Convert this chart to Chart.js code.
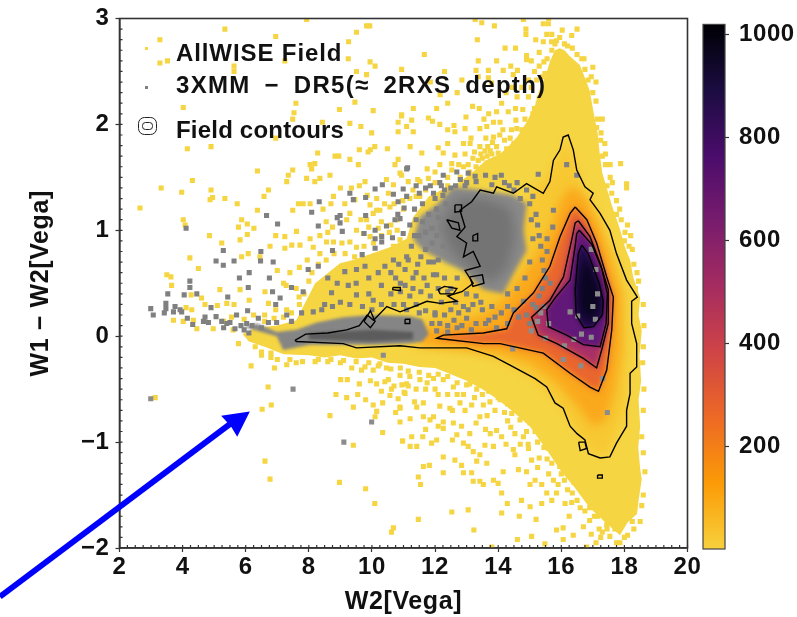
<!DOCTYPE html>
<html lang="en">
<head>
<meta charset="UTF-8">
<title>W1-W2 vs W2</title>
<script src="https://cdn.jsdelivr.net/npm/chart.js"></script>
<style>
    body { margin: 0; background: white; }
    #main { position: absolute; left: 0; top: 0; }
    #bar { position: absolute; left: 690px; top: 0; }
</style>
</head>
<body>
<canvas id="main" width="797" height="617"></canvas>
<canvas id="bar" width="107" height="617"></canvas>
<script>
// field density, outermost region to core (all [W2, W1-W2])
const fieldEnvelope = [[5.9,.02],[6.3,.08],[7,.1],[7.6,.15],[8.2,.5],[8.99,.69],[9.4,.72],[10,.78],[10.57,.84],[11.1,.92],[11.3,1.12],[11.8,1.32],[12.2,1.38],[12.7,1.44],[13.2,1.55],[13.6,1.66],[14.06,1.72],[14.35,1.8],[14.6,1.88],[14.9,2.02],[15.2,2.2],[15.3,2.32],[15.5,2.46],[15.65,2.6],[15.8,2.7],[15.95,2.72],[16.1,2.7],[16.28,2.64],[16.59,2.56],[16.8,2.4],[16.9,2.32],[17.02,2.12],[17.15,1.92],[17.22,1.72],[17.3,1.54],[17.5,1.34],[17.62,1.22],[17.85,1.02],[18.02,.84],[18.18,.72],[18.28,.56],[18.5,.36],[18.45,.2],[18.55,.05],[18.48,-.18],[18.53,-.42],[18.45,-.6],[18.5,-.85],[18.44,-1.05],[18.5,-1.25],[18.55,-1.35],[18.45,-1.55],[18.4,-1.68],[18.1,-1.76],[17.86,-1.88],[17.4,-1.76],[16.9,-1.62],[16.4,-1.42],[16,-1.28],[15.6,-1.1],[15,-.85],[14.5,-.72],[14,-.6],[13.5,-.5],[13,-.42],[12.5,-.36],[12,-.3],[11.5,-.29],[11,-.26],[10.5,-.25],[10,-.2],[9.5,-.21],[9,-.18],[8.5,-.2],[8,-.18],[7.2,-.17],[6.6,-.1],[6.1,-.05]];
const fieldWarm = [[11,-.1],[12,.25],[13,.6],[14,1.1],[15,1.3],[15.7,1.6],[16.2,1.85],[16.7,1.4],[17.2,1.1],[17.7,.75],[18,.4],[18.1,-.2],[18,-.7],[17.5,-1.1],[17,-1.1],[16.5,-.9],[15.8,-.6],[15,-.38],[14,-.22],[13,-.11],[12,-.1]];
const fieldHalo = [[16.35,1.42],[16.8,1.3],[17.2,1.05],[17.6,.7],[17.9,.4],[17.9,-.1],[17.7,-.5],[17.4,-.8],[17,-.85],[16.5,-.65],[15.8,-.42],[15,-.25],[14,-.16],[12.5,-.12],[11.5,-.09],[11.5,.07],[12.5,.12],[13.5,.2],[14.2,.35],[14.7,.55],[15.3,.8],[15.7,1.05],[16,1.3]];
const level2 = [[16.44,1.22],[16.81,1.1],[17.12,.88],[17.44,.56],[17.65,.37],[17.6,.06],[17.44,-.32],[17.18,-.52],[16.91,-.48],[16.28,-.35],[15.43,-.16],[14.06,-.07],[13.53,-.07],[12.05,-.02],[12.26,.01],[13.53,.03],[14.27,.07],[14.48,.22],[15.12,.41],[15.64,.66],[15.96,.94],[16.28,1.16]];
const level3 = [[16.54,1.09],[16.91,.94],[17.23,.69],[17.49,.44],[17.49,.12],[17.28,-.13],[17.12,-.3],[16.7,-.21],[15.86,-.07],[15.27,.01],[15.06,.18],[15.64,.34],[16.07,.56],[16.33,.91],[16.44,1.07]];
const level4 = [[16.57,1],[16.96,.87],[17.28,.64],[17.46,.4],[17.42,.12],[17.23,-.1],[16.7,-.08],[16.17,.01],[15.59,.09],[15.54,.25],[15.8,.36],[16.28,.53],[16.44,.85],[16.49,.97]];
const level5 = [[16.65,.86],[16.85,.78],[17.2,.5],[17.33,.33],[17.3,.2],[17.02,.09],[16.72,.08],[16.47,.2],[16.44,.44],[16.54,.78]];
const coreArea = [[16.72,.76],[16.95,.65],[17.22,.42],[17.22,.25],[16.98,.15],[16.72,.17],[16.55,.3],[16.55,.5]];

// outer contour
const contourOuter = [[7.56,-.04],[7.9,.02],[8.6,.03],[9.2,.06],[9.6,.1],[9.85,.2],[10.05,.15],[10.47,.28],[10.89,.23],[11.42,.29],[11.74,.33],[12.16,.31],[12.69,.33],[12.4,.38],[12.85,.42],[13.21,.5],[12.95,.62],[13.43,.66],[13.21,.8],[12.9,.75],[13,.88],[12.69,.94],[12.95,1.03],[12.79,1.19],[13.16,1.27],[13.43,1.38],[13.85,1.35],[13.95,1.41],[14.48,1.35],[14.9,1.44],[15.43,1.35],[15.64,1.46],[15.75,1.66],[15.96,1.76],[16.06,1.88],[16.22,1.9],[16.38,1.76],[16.49,1.57],[16.75,1.41],[17.01,1.35],[16.91,1.29],[17.23,1.16],[17.54,1],[17.75,.78],[18.07,.53],[18.41,.37],[18.23,.33],[18.23,.12],[18.39,-.07],[18.39,-.29],[18.18,-.35],[18.18,-.54],[18.07,-.7],[18.07,-.85],[17.91,-.93],[17.75,-1.01],[17.54,-1.14],[17.23,-1.15],[16.86,-1.11],[16.75,-.98],[16.5,-.92],[16.28,-.85],[16.06,-.68],[15.8,-.63],[15.54,-.48],[15.17,-.4],[14.48,-.29],[13.85,-.19],[13,-.11],[11.52,-.11],[10.89,-.09],[9.51,-.11],[9.09,-.07],[7.61,-.05]];
const contourLoops = [
    [[12.37,1.1],[12.74,1.07],[12.79,1],[12.53,1.02]],
    [[12.63,1.24],[12.84,1.24],[12.84,1.18],[12.63,1.17]],
    [[12.16,.4],[12.58,.4],[12.69,.45],[12.3,.47],[12.1,.44]],
    [[10.66,.46],[10.9,.46],[10.9,.43],[10.66,.44]],
    [[9.75,.14],[9.95,.24],[10.1,.14],[9.95,.08]],
    [[11.05,.16],[11.2,.16],[11.2,.12],[11.05,.12]],
    [[13.1,.56],[13.5,.58],[13.55,.5],[13.2,.47]],
    [[13.2,.95],[13.35,.97],[13.35,.9],[13.2,.9]],
    [[16.55,-1],[16.75,-1],[16.8,-1.06],[16.6,-1.08]],
    [[17.15,-1.31],[17.3,-1.31],[17.3,-1.34],[17.15,-1.34]]
];

// 3XMM grey density
const xmmCloud = [[12.05,1.24],[12.58,1.41],[13.43,1.38],[14.48,1.33],[14.9,1.25],[14.8,1],[14.9,.81],[14.48,.59],[14.16,.4],[13.53,.44],[12.9,.62],[12.37,.69],[11.63,.81],[11.31,.91],[11.53,1.13]];
const xmmCloudMid = [[12.2,1.05],[12.7,1.3],[13.5,1.3],[14.4,1.2],[14.55,.95],[14.3,.65],[13.8,.5],[13.2,.62],[12.5,.8]];
const xmmCloudCore = [[12.6,1.1],[13.3,1.2],[14.06,1.15],[14.1,.9],[13.7,.62],[13.3,.75],[12.7,.95]];
const xmmTail = [[5.92,.09],[6.98,0],[7.19,-.13],[8.04,-.08],[9.09,-.08],[10.15,-.08],[11.2,-.07],[11.6,-.05],[11.8,.02],[11.6,.16],[11.2,.19],[9.94,.2],[9.09,.18],[8.25,.13],[7.61,.06],[6.98,.04],[6.35,.12]];
const xmmTailCore = [[8,-.03],[10,-.05],[11.3,-.03],[11.3,.04],[10,.06],[8,.03]];

// scattered field sources
const fieldTop = [[5.34,2.9],[3.28,2.8],[3.28,2.58],[3.52,2.6],[6.95,2.83],[7.93,2.99],[9.83,2.93],[9.93,2.93],[9.51,2.87],[9.26,2.78],[7.24,2.6],[5.63,2.55],[5.63,2.5],[9.25,2.62],[9.94,2.59],[10.1,2.55],[10.94,2.52],[9.51,2.5],[9.83,2.47],[4.02,2.16],[7.59,2.2],[7.53,2.11],[7.49,2.05],[8.97,2.14],[9.46,2.21],[10.04,2.13],[9.3,2.01],[9.65,1.98],[9.99,1.92],[10.94,2.08],[10.83,2.02],[10.83,1.93],[8.43,2.02],[4.15,1.77],[4.9,1.79],[6.95,1.87],[8.28,1.73],[8.83,1.7],[8.95,1.7],[9.3,1.67],[9.6,1.76],[9.88,1.74],[9.95,1.76],[10.09,1.79],[10.49,1.77],[10.83,1.67],[6.37,1.56],[8.04,1.62],[8.19,1.63],[8.09,1.58],[9.57,1.62],[10.73,1.62],[7.49,1.57],[7.35,1.52],[7.3,1.46],[7.93,1.49],[8.35,1.49],[8.19,1.46],[8.67,1.52],[4.31,1.47],[3.32,1.4],[3.97,1.36],[4.9,1.38],[4.87,1.29],[4.95,1.31],[5.34,1.3],[5.73,1.25],[6.72,1.38],[6.58,1.32],[2.65,1.21],[6.37,1.19],[7.49,1.19],[7.67,1.25],[7.82,1.25],[8.04,1.25],[4.02,1.1],[4.08,1.05],[5.87,1.1],[6.05,1.06],[5.77,1.03],[6.26,1.02],[4.85,.95],[5.82,.91],[6.05,.96],[5.24,.88],[8.04,.92],[8.14,.84],[8.56,.89],[8.78,.89],[7.61,.99],[7.72,.86],[7.46,.86],[7.24,.83],[6.77,.85],[6.95,.95],[7.24,.94],[6.45,.75],[6.08,.78],[5.87,.75],[4.23,.74],[4.5,.64],[3.5,.58],[3.63,.56],[9.2,1.1],[9.3,1.16],[9.51,1],[9.83,1.1],[10.04,1.16],[10.15,1.19],[9.94,1.24],[9.78,1.46],[10.46,1.48],[10.68,1.43],[10.89,1.54],[10.52,1.35],[10.25,1.19],[10.57,1.22],[9.46,1.29],[9.14,1.25],[8.78,1.32],[9.94,.94],[9.73,.97],[9.3,.89],[9.51,.84],[10.68,.85],[10.89,.91],[8.35,.78],[7.95,.72],[8.1,.6],[7.7,.65],[7.4,.6],[7.6,.45],[7,.62],[7.2,.5]];
const fieldUpper = [[13.27,2.99],[13.48,2.96],[13.88,2.93],[14.8,2.99],[15.43,2.95],[15.59,2.95],[14.88,2.9],[14.88,2.85],[15.54,2.85],[16.03,2.89],[16.33,2.84],[15.19,2.8],[15.43,2.78],[15.69,2.78],[15.85,2.79],[13.34,2.8],[14.22,2.72],[14.55,2.72],[15.3,2.68],[14.9,2.65],[14.9,2.61],[15.45,2.59],[11.66,2.66],[13.37,2.6],[13.3,2.51],[13.69,2.51],[14.16,2.51],[14.61,2.51],[17,2.54],[13.37,2.45],[13.69,2.44],[13.79,2.39],[14.48,2.47],[14.96,2.42],[15.22,2.42],[12.16,2.28],[12.4,2.2],[12.05,2.15],[11.31,2.15],[13.19,2.17],[13.4,2.15],[14.11,2.2],[14.32,2.12],[14.6,2.26],[14.96,2.26],[15.27,2.2],[10.94,2.09],[11.26,2.04],[11.79,2.06],[11.92,2.03],[12.98,2.07],[12.6,1.99],[12.63,1.93],[12.95,1.96],[13.42,1.96],[13.64,1.98],[13.85,2.02],[14.06,2.02],[14.56,2.04],[14.59,1.96],[15.11,1.99],[17.12,1.97],[17.26,1.92],[11.1,1.98],[11.31,1.93],[13.14,1.87],[13.11,1.82],[12.9,1.82],[13.61,1.87],[13.85,1.88],[14.38,1.87],[14.64,1.85],[14.96,1.92],[11.21,1.79],[11.58,1.73],[12.26,1.73],[12.63,1.71],[13.42,1.79],[13.67,1.79],[13.95,1.79],[14.27,1.77],[14.53,1.79],[14.8,1.77],[15.01,1.73],[17.88,1.63],[18.07,1.44],[18.07,1.4],[12.53,1.63],[12.53,1.57],[10.94,1.52],[11.15,1.46],[11.52,1.46],[11.52,1.32],[11.79,1.49],[13.37,1.66],[13.53,1.57],[13.72,1.63],[14,1.63],[14.32,1.66],[14.59,1.6],[15.01,1.6],[15.35,2.1],[15.25,1.95],[15.42,2.35],[15.48,2.48],[17.4,1.72],[17.55,1.5],[17.75,1.28],[18.02,.98],[18.25,.82],[18.4,.6]];
const fieldLow = [[11.47,-1.73],[12.53,-1.66],[13.05,-1.64],[13.23,-1.83],[14.11,-1.67],[14.61,-1.92],[15.06,-1.89],[14.67,-1.7],[15.2,-1.73],[14.29,-1.58],[14.11,-1.48],[14.74,-1.55],[15.01,-1.61],[15.38,-1.58],[11.54,-1.4],[11.47,-1.33],[11.63,-1.23],[11.82,-1.22],[12.26,-1.29],[12.63,-1.17],[12.84,-1.22],[12.9,-1.29],[13.16,-1.29],[13.21,-1.37],[13.42,-1.37],[13.53,-1.4],[13.85,-1.36],[14,-1.39],[14.16,-1.28],[13.64,-1.2],[13.32,-1.18],[11.21,-1.04],[11.42,-1.04],[10.97,-.99],[11.26,-.95],[11.61,-.95],[11.89,-1.01],[12.05,-.98],[12.26,-1.14],[12.69,-.93],[12.9,-1.01],[13.05,-1.04],[13.21,-1.09],[13.42,-1.12],[13.58,-1.03],[13.85,-1.04],[14.48,-1.07],[14.53,-1.12],[14.96,-1.06],[15.06,-1.17],[14.64,-1.26],[14.9,-1.28],[15.17,-1.36],[15.01,-1.4],[15.38,-1.4],[15.54,-1.48],[15.85,-1.48],[16.12,-1.58],[16.33,-1.57],[15.85,-1.83],[16.06,-1.81],[16.38,-1.88],[16.7,-1.8],[17.44,-1.78],[17.54,-1.89],[17.86,-1.95],[16.8,-1.99],[16.06,-1.92],[15.48,-1.96],[13.8,-1.99],[10.89,-.67],[11.05,-.54],[11.42,-.67],[11.21,-.78],[11.63,-.63],[11.63,-.76],[11.95,-.76],[11.84,-.79],[12.26,-.81],[12.26,-.87],[12.58,-.82],[12.84,-.85],[12.47,-.68],[12.79,-.63],[13.16,-.65],[13.42,-.76],[13.95,-.89],[14.11,-.95],[13.53,-.65],[14.43,-.73],[14.53,-.92],[14.9,-.9],[15.17,-.9],[14.69,-.79],[15.11,-.79],[15.43,-.73],[11.52,-.41],[11.95,-.4],[12.26,-.41],[12.58,-.48],[13,-.46],[13.32,-.5],[13.74,-.62],[14.06,-.6],[14.59,-.7],[15.01,-.82],[15.45,-1.05],[15.7,-1.2],[16,-1.3],[16.2,-1.45],[16.5,-1.55],[16.75,-1.65],[17.05,-1.7],[17.2,-1.82],[16.95,-1.87],[18.25,-1.75],[18.1,-1.88],[17.7,-1.82],[6.17,-.28],[6.91,-.3],[6.71,-.48],[6.81,-.65],[6.52,-.69],[6.61,-1.18],[6.77,-1.35],[8.97,-1.38],[9.8,-1.44],[10.09,-1.58],[10.68,-1.81],[10.62,-1.85],[9.41,-1.03],[8.67,-.75],[9.41,-.67],[8.86,-.55],[9.2,-.58],[9.01,-.41],[9.22,-.41],[9.36,-.3],[9.67,-.32],[9.78,-.29],[10.04,-.32],[9.8,-.6],[10.04,-.65],[10.34,-.63],[10.15,-.71],[10.1,-.76],[10.34,-.91],[10.89,-.81],[10.97,-.99],[10.89,-.68],[10.57,-.56],[10.83,-.59],[11.02,-.53],[10.62,-.5],[10.41,-.43],[10.52,-.41],[10.89,-.37],[11.15,-.33],[10.25,-.26],[10.46,-.3],[3.13,-.58]];
const fieldTail = [[3.65,.48],[4.27,.39],[4.11,.27],[4.29,.25],[3.71,.15],[4.02,.14],[4.34,.15],[4.45,.07],[4.97,.07],[4.6,.36],[4.71,.3],[5.1,.29],[5.18,.44],[5.4,.31],[5.63,.3],[6.11,.34],[5.82,.44],[6.61,.42],[6.72,.31],[7.28,.48],[7.69,.37],[8.09,.36],[5.77,-.07],[5.3,.14],[5.55,.18],[5.6,.06],[5.95,.16],[6.25,.2],[6.6,.2],[6.95,.25],[7.3,.25],[6.5,-.18],[6.8,-.2],[7.6,-.25],[8.2,-.24],[8.6,-.24],[9,-.25],[7.3,-.27]];
const fieldEdge = [[15.3,2.25],[15.15,2.15],[15.4,2.45],[15.55,2.62],[15.7,2.7],[15.8,2.76],[16.1,2.76],[16.5,2.66],[16.75,2.52],[16.85,2.42],[17,2.3],[17.1,2.22],[17.15,2.05],[17.25,1.85],[17.3,1.7],[17.4,1.62],[17.45,1.42],[17.6,1.35],[17.75,1.15],[17.9,1.1],[18,.9],[18.15,.85],[18.3,.68],[18.35,.45],[18.6,.3],[18.62,.1],[18.6,-.1],[18.58,-.25],[18.62,-.5],[18.6,-.7],[18.55,-.95],[18.6,-1.1],[18.65,-1.28],[18.6,-1.5],[18.55,-1.6],[18.5,-1.75],[13.1,1.55],[13.3,1.6],[13.5,1.68],[13.65,1.7],[13.8,1.72],[14,1.73],[14.15,1.7],[14.3,1.72],[14.5,1.82],[14.7,1.82],[14.85,1.85],[15,1.85],[15.1,1.9],[14.2,1.85],[14.05,1.9],[13.75,1.75],[13.2,1.68],[12.9,1.6],[12.8,1.5],[12.4,1.42],[12,1.45],[11.7,1.38],[11.4,1.32],[11.2,1.3],[11,1.2],[10.8,1.1],[10.55,.98],[10.3,.95],[10.05,.88],[9.75,.85],[9.45,.75],[9.15,.78],[8.8,.78],[8.55,.72],[8.3,.68],[8,.52],[7.85,.4],[7.7,.3],[7.45,.22],[7.2,.18],[6.9,.17],[6.6,.14],[6.3,-.1],[6.5,-.15],[6.8,-.16],[7,-.22],[7.4,-.22],[7.8,-.24],[8.3,-.22],[8.7,-.22],[9.1,-.23],[9.5,-.24],[9.9,-.25],[10.2,-.28],[10.6,-.31],[10.9,-.3],[11.2,-.38],[11.5,-.34],[11.8,-.37],[12.1,-.36],[12.4,-.38],[12.7,-.44],[13.1,-.45],[13.4,-.45],[13.7,-.52],[14,-.58],[14.3,-.64],[14.6,-.66],[14.9,-.72],[15.2,-.84],[15.4,-.92],[15.6,-1.06],[15.8,-1.1],[15.95,-1.23],[16.2,-1.28],[16.4,-1.38],[16.6,-1.42],[16.9,-1.62],[17.15,-1.7],[17.45,-1.82],[17.75,-1.95],[18,-1.9],[18.3,-1.82],[12.9,-.55],[13.5,-.55],[12.1,-.55],[11.7,-.5],[12.7,-.55],[13.9,-.7],[14.3,-.8],[14.8,-.95],[15.3,-1.15],[15.6,-1.3],[11.4,-.5],[11.1,-.45]];
const fieldExtra = [[11.15,-.47],[11.35,-.62],[11.75,-.44],[12,-.5],[12.15,-.66],[12.4,-.55],[12.55,-.7],[12.95,-.7],[13.25,-.58],[13.3,-.82],[13.65,-.75],[13.75,-.92],[14.2,-.72],[14.4,-.86],[14.75,-.62],[14.95,-1.02],[15.25,-1],[15.3,-.72],[15.55,-1.16],[15.75,-1.36],[15.9,-1.4],[16.1,-1.36],[16.35,-1.48],[16.6,-1.62],[16.9,-1.74],[17.3,-1.85],[12.55,-.98],[12.1,-.85],[11.7,-.88],[13.1,-.92],[13.6,-.88],[14.25,-1.02],[14.7,-1.02],[15.25,-1.24],[15.7,-1.55],[16.25,-1.7],[17.1,-1.95],[17.25,-1.9],[10.7,-.47],[10.95,-.46],[10.75,-.72],[9.6,-.45],[9.95,-.42],[10.15,-.45],[9.55,-.55],[10.3,-.52],[11.3,1.38],[10.98,1.28],[10.7,1.25],[10.4,1.25],[10.15,1.3],[9.85,1.33],[9.6,1.42],[9.35,1.4],[9,1.4],[8.7,1.25],[8.45,1.2],[8.55,1.08],[8.75,1.03],[9.05,.88],[8.35,.95],[8.6,.98],[9.65,1.1],[10.3,1.08],[10.6,1.05],[10.8,1],[9.9,1.03],[10.2,1.02],[11.45,1.48],[11.75,1.58],[12,1.55],[12.15,1.62],[12.4,1.5],[12.75,1.62],[12.1,1.78],[12.4,1.82],[12.95,1.72],[13.05,1.62],[13.25,1.74],[13.45,1.72],[13.58,1.75],[13.82,1.83],[14.15,1.95],[14.42,1.95],[14.75,1.95],[14.85,2.05],[15.1,2.1],[14.78,2.14],[14.55,2.15],[13.95,2.12],[13.7,2.1],[13.55,2.05],[14.25,2.3],[14.45,2.35],[14.75,2.35],[15.05,2.35],[15.15,2.5],[15.3,2.55],[15.05,2.6],[15.7,2.85],[15.95,2.82],[16.2,2.74],[16.35,2.72],[16.65,2.62],[16.95,2.45],[17.1,2.4],[17.3,2.05],[17.38,1.82],[17.55,1.62],[17.62,1.45],[17.85,1.2],[18.1,1.05],[18.2,.95],[18.45,.52],[16.72,2.62],[14.4,2.55],[13.95,2.6],[12.85,2.42],[12.3,2.5],[11.85,2.4],[12.7,2.3],[12.15,2],[12.4,1.95],[15.6,3],[16.5,2.9]];

// 3XMM sources
const xmmLeft = [[2.99,.26],[3.07,.2],[3.47,.31],[3.47,.26],[3.42,.22],[3.76,.28],[3.71,.23],[3.92,.25],[3.97,.23],[4.15,.17],[4.32,.11],[4.71,.18],[4.66,.14],[4.82,.13],[4.9,.27],[5.06,.185],[5.24,.14],[5.4,.12],[5.66,.07],[5.71,.2],[6.06,.24],[6.03,.12],[6.4,.17],[6.72,.13],[6.98,.13],[7.3,.2],[7.45,.14],[7.77,.22],[8.14,.23],[8.41,.25],[3.53,.4],[4.05,.39],[4.45,.4],[4.23,.46],[4.23,.52],[5.43,.37],[6.08,.46],[6.85,.42],[7.09,.36],[6.95,.3],[7.45,.46],[7.82,.42],[8.72,.41],[9.51,.39],[10.04,.34],[10.3,.48],[11,.3],[5.95,.06],[6.2,.1],[6.1,.03],[5.85,.1],[6.5,.08],[5.5,.13],[5.3,.08]];
const xmmOutliers = [[2.99,-.59],[7.5,-.5],[9.99,-.81],[9.11,-1],[17.46,-.72],[17.31,-.4],[16.06,-.22],[16.62,-.28],[14.46,-.12],[10.36,-.18],[17.1,.63],[16.95,.82],[17.15,.4],[17,.28],[16.52,.19],[16.28,.23],[16.64,.02],[16.95,-.01],[17.08,.16],[16.4,-.03],[16.1,-.09],[15.6,.12],[15.5,-.02],[15.25,.14],[15.35,.22],[15.05,.05]];
const xmmMid = [[4.11,1.02],[6.66,1.14],[7.01,1.06],[8.09,1.17],[8.33,1.27],[8.3,1.04],[8.99,1.14],[8.9,1.12],[8.99,1.07],[9.06,.99],[9.3,1.35],[9.41,1.29],[9.8,1.31],[10.1,1.39],[10.33,1.43],[10.68,1.34],[10.99,1.39],[11.13,1.59],[11.1,1.32],[10.83,1.27],[11.02,1.21],[10.89,1.11],[10.73,1.1],[10.82,1.15],[9.8,1.14],[10.46,1.04],[10.1,1],[9.75,.97],[10.31,.94],[10.31,.89],[10.1,.92],[10.65,.93],[10.99,.97],[5.29,.81],[5.06,.71],[5.29,.67],[5.63,.71],[6.11,.6],[6.48,.8],[6.47,.71],[6.87,.7],[6.75,.55],[5.8,.55],[10.1,.83],[8.75,.81],[9.69,.77],[7.98,.63],[8.3,.66],[9.14,.61],[9.51,.63],[9.78,.66],[10.41,.66],[10.68,.72],[11.1,.75],[11.05,.63],[11.1,1.58],[12.26,1.52],[12.69,1.55],[13.05,1.54],[13.27,1.51],[15.27,1.53],[16.49,1.52],[16.17,1.62],[15.75,1.19],[15.73,1.03]];
const xmmCloudEdge = [[11.4,1.1],[11.6,1.25],[11.8,1.15],[12,1.3],[12.1,1.12],[12.25,1.33],[11.5,.95],[11.7,.98],[11.9,.88],[11.55,.75],[11.8,.7],[11.4,.6],[11.25,.85],[11.65,.55],[11.95,.58],[12.1,.45],[11.3,.45],[11.55,.42],[11.85,.38],[12.2,.32],[12.4,.42],[12.65,.32],[12.9,.28],[13.2,.3],[13.5,.25],[13.8,.28],[14.1,.22],[11.2,.38],[11.05,.48],[12.3,.2],[12.6,.15],[13,.17],[13.3,.12],[11.4,.3],[10.9,.42],[13.7,.15],[14.5,.25],[14.9,.2],[15.2,.27],[15.4,.45],[15.45,.62],[15.55,.8],[15.3,.95],[15.2,1.15],[15,1.25],[14.7,1.3],[14.5,1.38],[14.2,1.45],[13.9,1.5],[13.6,1.52],[12.65,1.42],[12.2,1.42],[11.85,1.42],[11.4,1.42],[15.45,.28],[15.65,.5]];
const xmmCloudMore = [[11.2,1.05],[11.35,1.2],[11.5,1.35],[11.7,1.4],[11.95,1.35],[12.05,1.2],[11.9,1.02],[11.6,1.08],[11.35,.95],[11.15,.72],[11.45,.68],[11.7,.82],[12.05,.95],[11.3,.55],[11.75,.48],[11.5,.22],[11.7,.24],[12,.22],[12.15,.12],[12.5,.25],[12.75,.22],[13.05,.25],[13.45,.32],[13.6,.12],[13.9,.18],[14.3,.28],[14.3,.12],[14.65,.18],[14.8,.33],[15,.12],[12.85,.1],[12.4,.1],[13.15,.06],[13.95,.08],[15.1,.3],[15.3,.38],[15.5,.55],[15.4,.72],[15.35,.85],[15.55,.92],[15.25,1.05],[15.1,1.32],[14.9,1.38],[14.6,1.45],[14.35,1.42],[14.1,1.52],[13.8,1.43],[13.3,1.46],[13,1.45],[12.8,1.48],[12.5,1.4],[12.3,1.38],[12.15,1.45],[12.35,1.25],[12.2,1.03],[12.25,.85],[12.1,.72],[12.3,.55],[12.5,.45],[12.05,.58],[11.95,.7],[10.9,.5],[10.75,.55],[11.1,.25],[10.6,.4],[10.3,.3],[10.7,.3],[9.9,.4],[9.7,.28],[9.3,.3],[9,.32],[8.75,.28],[8.5,.3],[10,.25],[11.9,.12],[12.05,.05],[12.4,.04],[12.7,.08],[12,.2],[13,.4],[13.3,.38],[12.7,.55],[14.3,.4],[14.6,.45],[14.85,.55],[15,.7],[15.1,.92],[15.05,1.1],[12.95,1.42],[9.5,.5],[9.9,.55],[10.2,.6],[10.6,.6],[10.85,.68],[9.25,.48],[8.9,.5],[8.6,.55]];

// blue arrow pointing at the outlying sources
const arrowShaft = [[-1.79,-2.46],[5.54,-.82]];
const arrowHead = [[6.13,-.71],[5.22,-.75],[5.53,-.85],[5.73,-.95]];

const barStops = ["#f7d13d", "#fb9b06", "#ed6925", "#cf4446", "#a52c60", "#781c6d", "#4a0c6b", "#1b0c41", "#000004"];
const barTicks = [200, 400, 600, 800, 1000];

const yellow = "#f6d543";
const grey = "#808080";
const axisFont = { family: "Liberation Sans", size: 24, weight: "bold" };
const titleFont = { family: "Liberation Sans", size: 25, weight: "bold" };
const inkColor = "#111";

function toXY(list) {
    return list.map(p => ({ x: p[0], y: p[1] }));
}

function area(list, color, blur, order) {
    return { data: toXY(list), polyFill: color, polyBlur: blur, showLine: false, pointRadius: 0, order: order };
}

function contour(list, order) {
    return { data: toXY(list.concat([list[0]])), showLine: true, pointRadius: 0, fill: false, borderColor: "#000", borderWidth: 1.4, order: order };
}

function dots(list, color, order) {
    return { data: toXY(list), pointStyle: "rect", pointRadius: 3.6, pointBorderWidth: 0, pointBackgroundColor: color, showLine: false, order: order };
}

// fills a dataset's closed outline, points already placed by the scales
const areaFill = {
    id: "areaFill",
    beforeDraw(chart) {
        chart.ctx.letterSpacing = "0.6px";
    },
    beforeDatasetDraw(chart, args) {
        const ds = chart.data.datasets[args.index];
        if (ds.frameBefore) drawFrame(chart);
        if (!ds.polyFill) return;
        const ctx = chart.ctx;
        const a = chart.chartArea;
        ctx.save();
        if (!ds.noClip) {
            ctx.beginPath();
            ctx.rect(a.left, a.top, a.width, a.height);
            ctx.clip();
        }
        if (ds.polyBlur) ctx.filter = "blur(" + ds.polyBlur + "px)";
        ctx.fillStyle = ds.polyFill;
        ctx.beginPath();
        args.meta.data.forEach((pt, i) => i ? ctx.lineTo(pt.x, pt.y) : ctx.moveTo(pt.x, pt.y));
        ctx.closePath();
        ctx.fill();
        ctx.restore();
    }
};

function drawFrame(chart) {
    const ctx = chart.ctx;
    const a = chart.chartArea;
    const sx = chart.scales.x;
    const sy = chart.scales.y;
    ctx.save();
    ctx.strokeStyle = "#333";
    ctx.lineWidth = 1.2;
    ctx.beginPath();
    // minor ticks sit inside the axes
    for (let v = 2; v <= 20; v += 0.25) {
        const px = sx.getPixelForValue(v);
        ctx.moveTo(px, a.bottom);
        ctx.lineTo(px, a.bottom - 3);
    }
    for (let i = -20; i <= 30; i++) {
        const py = sy.getPixelForValue(i / 10);
        ctx.moveTo(a.left, py);
        ctx.lineTo(a.left + 3, py);
    }
    ctx.stroke();
    ctx.lineWidth = 1.6;
    ctx.strokeRect(a.left, a.top, a.width, a.height);

    // legend
    ctx.fillStyle = inkColor;
    ctx.font = "bold 24px 'Liberation Sans'";
    ctx.textBaseline = "middle";
    ctx.letterSpacing = "0.9px";
    ctx.fillText("AllWISE Field", 176, 54);
    ctx.letterSpacing = "1.3px";
    ctx.wordSpacing = "6px";
    ctx.fillText("3XMM \u2212 DR5(\u2248 2RXS depth)", 176, 86);
    ctx.letterSpacing = "0.2px";
    ctx.wordSpacing = "0px";
    ctx.fillText("Field contours", 176, 131);
    ctx.fillStyle = yellow;
    ctx.fillRect(145, 47, 3, 3);
    ctx.fillStyle = grey;
    ctx.fillRect(145, 86, 3, 3);
    ctx.strokeStyle = "#222";
    ctx.lineWidth = 1;
    ctx.beginPath();
    ctx.roundRect(138.5, 117.5, 18, 17, 6);
    ctx.stroke();
    ctx.beginPath();
    ctx.roundRect(142.5, 122.5, 10, 7, 3);
    ctx.stroke();
    ctx.restore();
}

new Chart(document.getElementById("main"), {
    type: "scatter",
    data: {
        datasets: [
            area(fieldEnvelope, yellow, 0, 30),
            dots(fieldTop, yellow, 29),
            dots(fieldUpper, yellow, 29),
            dots(fieldLow, yellow, 29),
            dots(fieldTail, yellow, 29),
            dots(fieldEdge, yellow, 29),
            dots(fieldExtra, yellow, 29),
            area(fieldWarm, "#f7c832", 5, 28),
            area(fieldHalo, "#faa81c", 5, 27),
            area(level2, "#e9662e", 3, 26),
            area(level3, "#a82f66", 3, 25),
            area(level4, "#621878", 2, 24),
            area(level5, "#1f0b4a", 2, 23),
            area(coreArea, "#0a0520", 4, 22),
            area(xmmCloud, "#8a8a8a", 2, 21),
            area(xmmCloudMid, "#747474", 6, 20),
            area(xmmCloudCore, "#606060", 7, 20),
            area(xmmTail, "#858585", 1.5, 21),
            area(xmmTailCore, "#5c5c5c", 1.5, 20),
            dots(xmmLeft, grey, 19),
            dots(xmmMid, grey, 19),
            dots(xmmCloudEdge, grey, 19),
            dots(xmmCloudMore, grey, 19),
            dots(xmmOutliers, "#8c8c8c", 19),
            contour(contourOuter, 10),
            ...contourLoops.map(loop => contour(loop, 10)),
            contour(level2, 9),
            contour(level3, 9),
            contour(level4, 9),
            contour(level5, 9),
            { data: toXY(arrowShaft), showLine: true, pointRadius: 0, borderColor: "#0000ff", borderWidth: 6, clip: false, frameBefore: true, order: 2 },
            { data: toXY(arrowHead), polyFill: "#0000ff", noClip: true, showLine: false, pointRadius: 0, clip: false, order: 1 }
        ]
    },
    plugins: [areaFill],
    options: {
        responsive: false,
        animation: false,
        layout: { padding: { left: 0, right: 109.5, top: 18.5, bottom: 0 } },
        plugins: { legend: { display: false }, tooltip: { enabled: false } },
        scales: {
            x: {
                type: "linear",
                min: 2,
                max: 20,
                afterFit(s) { s.height = 69; s.paddingLeft = 0; s.paddingRight = 0; },
                ticks: { stepSize: 2, maxRotation: 0, padding: 1, color: inkColor, font: axisFont },
                grid: { drawOnChartArea: false, tickLength: 4, tickColor: "#333", tickWidth: 1.2 },
                border: { color: "#333", width: 1.6 },
                title: { display: true, text: "W2[Vega]", color: inkColor, font: titleFont, padding: { top: 2, bottom: 0 } }
            },
            y: {
                type: "linear",
                min: -2,
                max: 3,
                afterFit(s) { s.width = 119.5; s.paddingTop = 0; s.paddingBottom = 0; },
                ticks: {
                    stepSize: 1,
                    padding: 6,
                    color: inkColor,
                    font: axisFont,
                    callback: v => String(v).replace("-", "\u2212")
                },
                grid: { drawOnChartArea: false, tickLength: 4, tickColor: "#333", tickWidth: 1.2 },
                border: { color: "#333", width: 1.6 },
                title: { display: true, text: "W1 \u2212 W2[Vega]", color: inkColor, font: titleFont, padding: { top: 26, bottom: 0 } }
            }
        }
    }
});

// colour bar
new Chart(document.getElementById("bar"), {
    type: "bar",
    data: {
        labels: [""],
        datasets: [{
            data: [[0, 1019]],
            barPercentage: 1,
            categoryPercentage: 1,
            backgroundColor(c) {
                const a = c.chart.chartArea;
                if (!a) return barStops[0];
                const g = c.chart.ctx.createLinearGradient(0, a.bottom, 0, a.top);
                barStops.forEach((col, i) => g.addColorStop(i / (barStops.length - 1), col));
                return g;
            }
        }]
    },
    plugins: [{
        id: "barFrame",
        beforeDraw(chart) { chart.ctx.letterSpacing = "0.6px"; },
        afterDatasetsDraw(chart) {
            const a = chart.chartArea;
            chart.ctx.save();
            chart.ctx.strokeStyle = "#444";
            chart.ctx.lineWidth = 1.2;
            chart.ctx.strokeRect(a.left, a.top, a.width, a.height);
            chart.ctx.restore();
        }
    }],
    options: {
        responsive: false,
        animation: false,
        layout: { padding: { left: 13, right: 0, top: 19, bottom: 68 } },
        plugins: { legend: { display: false }, tooltip: { enabled: false } },
        scales: {
            x: { display: false },
            y: {
                position: "right",
                min: 0,
                max: 1019,
                afterFit(s) { s.width = 72; },
                afterBuildTicks(s) { s.ticks = barTicks.map(v => ({ value: v })); },
                ticks: { padding: 10, color: inkColor, font: axisFont, callback: v => String(v) },
                grid: { drawOnChartArea: false, tickLength: 4, tickColor: "#333", tickWidth: 1.2 },
                border: { display: false }
            }
        }
    }
});
</script>
</body>
</html>
